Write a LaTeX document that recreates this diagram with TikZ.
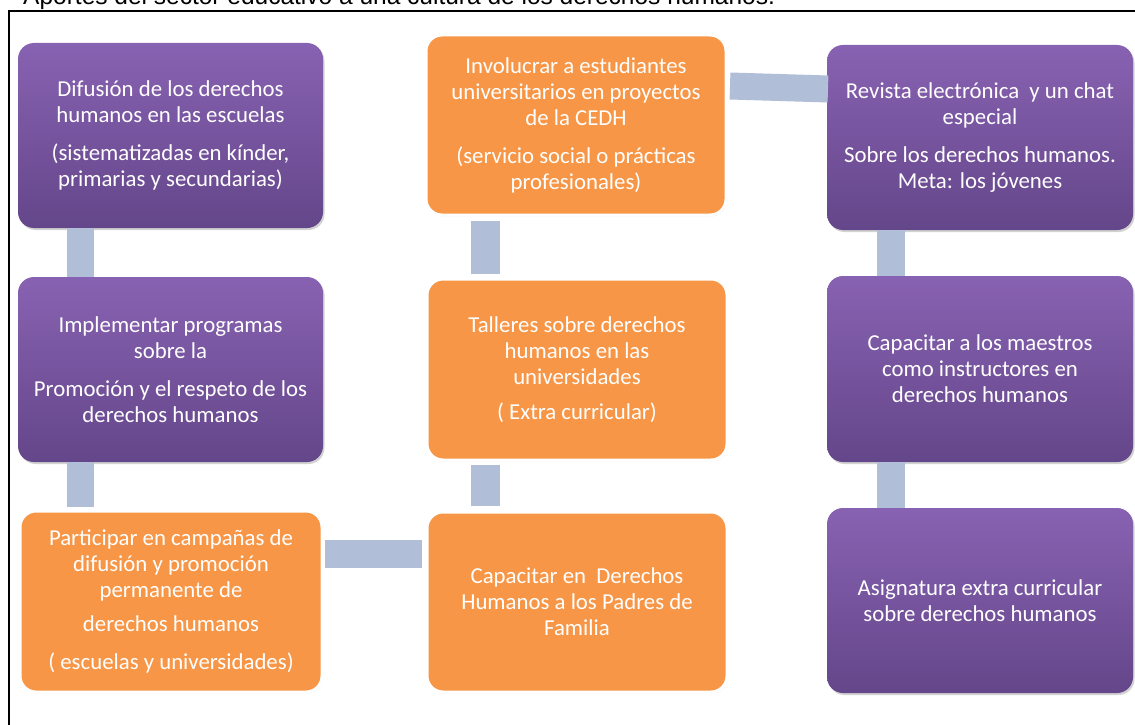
\documentclass[tikz,border=0pt]{standalone}
\usepackage{fontspec}
\setmainfont{Carlito}
\newfontfamily\titlefont{Liberation Sans}
\usetikzlibrary{shadows,calc}
\definecolor{purpT}{HTML}{8862B2}
\definecolor{purpB}{HTML}{64468A}
\definecolor{orng}{HTML}{F79646}
\definecolor{connc}{HTML}{B0BED8}
\begin{document}
\begin{tikzpicture}[x=1pt,y=-1pt,
  boxtext/.style={text=white, align=center, inner sep=0pt, outer sep=0pt, font=\fontsize{22.8}{26}\selectfont},
  pbox/.style={boxtext, rectangle, rounded corners=16pt, minimum width=305pt, minimum height=185pt,
    top color=purpT, bottom color=purpB, draw=none,
    drop shadow={opacity=0.35, shadow xshift=1.5pt, shadow yshift=-2pt}},
  obox/.style={boxtext, rectangle, rounded corners=16pt, minimum width=300pt, minimum height=181pt,
    fill=orng, draw=white, line width=3pt,
    drop shadow={opacity=0.12, shadow xshift=1pt, shadow yshift=-1.5pt}},
  conn/.style={draw=connc, line width=27pt}
]
\fill[white] (0,0) rectangle (1135,725);
\useasboundingbox (0,0) rectangle (1135,725);
\draw[line width=2.5pt] (9,740) -- (9,11) -- (1140,11);
\node[anchor=base west, inner sep=0pt, font=\titlefont\fontsize{24.5}{28}\selectfont] (title) at (23,5)
  {Aportes del sector educativo a una cultura de los derechos humanos.};

\node[pbox] (A1) at (170.5,135.5) {Difusión de los derechos\\humanos en las escuelas\\[12pt](sistematizadas en kínder,\\primarias y secundarias)};
\node[pbox] (A2) at (170.5,369.5) {Implementar programas\\sobre la\\[12pt]Promoción y el respeto de los\\derechos humanos};
\node[obox, minimum width=302pt] (A3) at (171,601.5) {Participar en campañas de\\difusión y promoción\\permanente de\\[8pt]derechos humanos\\[12pt]( escuelas y universidades)};
\node[obox, minimum height=180pt] (B1) at (576,125) {Involucrar a estudiantes\\universitarios en proyectos\\de la CEDH\\[12pt](servicio social o prácticas\\profesionales)};
\node[obox] (B2) at (577,369.5) {Talleres sobre derechos\\humanos en las\\universidades\\[9pt]( Extra curricular)};
\node[obox, minimum height=180pt] (B3) at (577,602) {Capacitar en\ \ Derechos\\Humanos a los Padres de\\Familia};
\node[pbox, minimum width=306pt] (C1) at (980,137.5) {Revista electrónica\ \ y un chat\\especial\\[12pt]Sobre los derechos humanos.\\Meta: los jóvenes};
\node[pbox, minimum width=306pt, minimum height=186pt] (C2) at (980,369) {Capacitar a los maestros\\como instructores en\\derechos humanos};
\node[pbox, minimum width=306pt] (C3) at (980,600.5) {Asignatura extra curricular\\sobre derechos humanos};

\draw[conn] ($(A1.south west)+(62.5,0)$) -- ($(A2.north west)+(62.5,0)$);
\draw[conn] ($(A2.south west)+(62.5,0)$) -- ($(A3.north west)+(60.5,-4)$);
\draw[conn, line width=28pt] ($(A3.east)+(3,-47.5)$) -- ($(B3.west)+(-5,-48)$);
\draw[conn, line width=29pt] ($(B3.north west)+(58.5,-6)$) -- ($(B2.south west)+(58.5,5)$);
\draw[conn, line width=29pt] ($(B2.north west)+(58.5,-5)$) -- ($(B1.south west)+(59.5,6)$);
\draw[conn] ($(B1.east)+(4,-39)$) -- ($(C1.west)+(1,-48.5)$);
\draw[conn, line width=28pt] ($(C1.south west)+(64,0)$) -- ($(C2.north west)+(64,0)$);
\draw[conn, line width=28pt] ($(C2.south west)+(64,0)$) -- ($(C3.north west)+(64,0)$);
\end{tikzpicture}
\end{document}
